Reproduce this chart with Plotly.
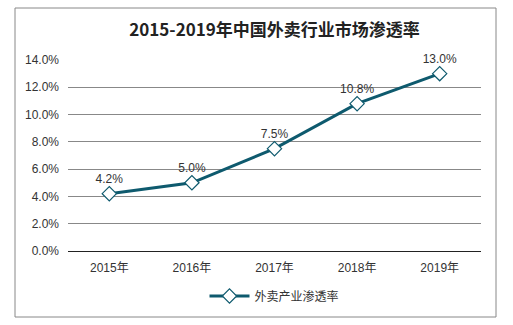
import plotly.graph_objects as go

years = ["2015年", "2016年", "2017年", "2018年", "2019年"]
rates = [4.2, 5.0, 7.5, 10.8, 13.0]
labels = ["4.2%", "5.0%", "7.5%", "10.8%", "13.0%"]
series_name = "外卖产业渗透率"
title = "2015-2019年中国外卖行业市场渗透率"

W, H = 513, 325
L, R, T, B = 68, 32, 60, 74
pw, ph = W - L - R, H - T - B

def px(x):
    return (x - L) / pw

def py(y):
    return (H - B - y) / ph

fig = go.Figure()
fig.add_trace(go.Scatter(
    x=years, y=rates, mode="lines+markers+text", name=series_name,
    text=labels, textposition="top center",
    textfont=dict(size=12, color="#333333", family="Arial, Liberation Sans, sans-serif"),
    line=dict(color="#0E5A6E", width=3),
    marker=dict(symbol="diamond", size=11, color="white", line=dict(color="#0E5A6E", width=1.2)),
    cliponaxis=False,
))

fig.update_layout(
    width=W, height=H,
    margin=dict(l=L, r=R, t=T, b=B),
    paper_bgcolor="white", plot_bgcolor="white",
    title=dict(text="<b>" + title + "</b>", x=0.5, xref="paper", xanchor="center",
               y=1 - 30 / H, yanchor="middle",
               font=dict(size=17, color="#222222", family="Noto Sans CJK SC, sans-serif")),
    font=dict(family="Arial, Liberation Sans, Noto Sans CJK SC, sans-serif", size=12, color="#333333"),
    showlegend=True,
    legend=dict(orientation="h", x=0.5, xanchor="center", y=py(296), yanchor="middle",
                font=dict(size=12, color="#333333"), itemwidth=40),
    xaxis=dict(type="category", range=[-0.5, 4.5], showgrid=False, showline=False, ticks="",
               ticklabelstandoff=8, tickfont=dict(size=12, color="#333333")),
    yaxis=dict(range=[0, 14], dtick=2, tickformat=".1f", ticksuffix="%",
               showgrid=True, gridcolor="#888888", gridwidth=1,
               zeroline=True, zerolinecolor="#222222", zerolinewidth=1,
               showline=False, ticks="", ticklabelstandoff=8,
               tickfont=dict(size=12, color="#333333")),
    shapes=[dict(type="rect", xref="paper", yref="paper",
                 x0=px(15), x1=px(496), y0=py(317), y1=py(8),
                 line=dict(color="#888888", width=1), layer="below")],
)

fig.write_html("out.html")
